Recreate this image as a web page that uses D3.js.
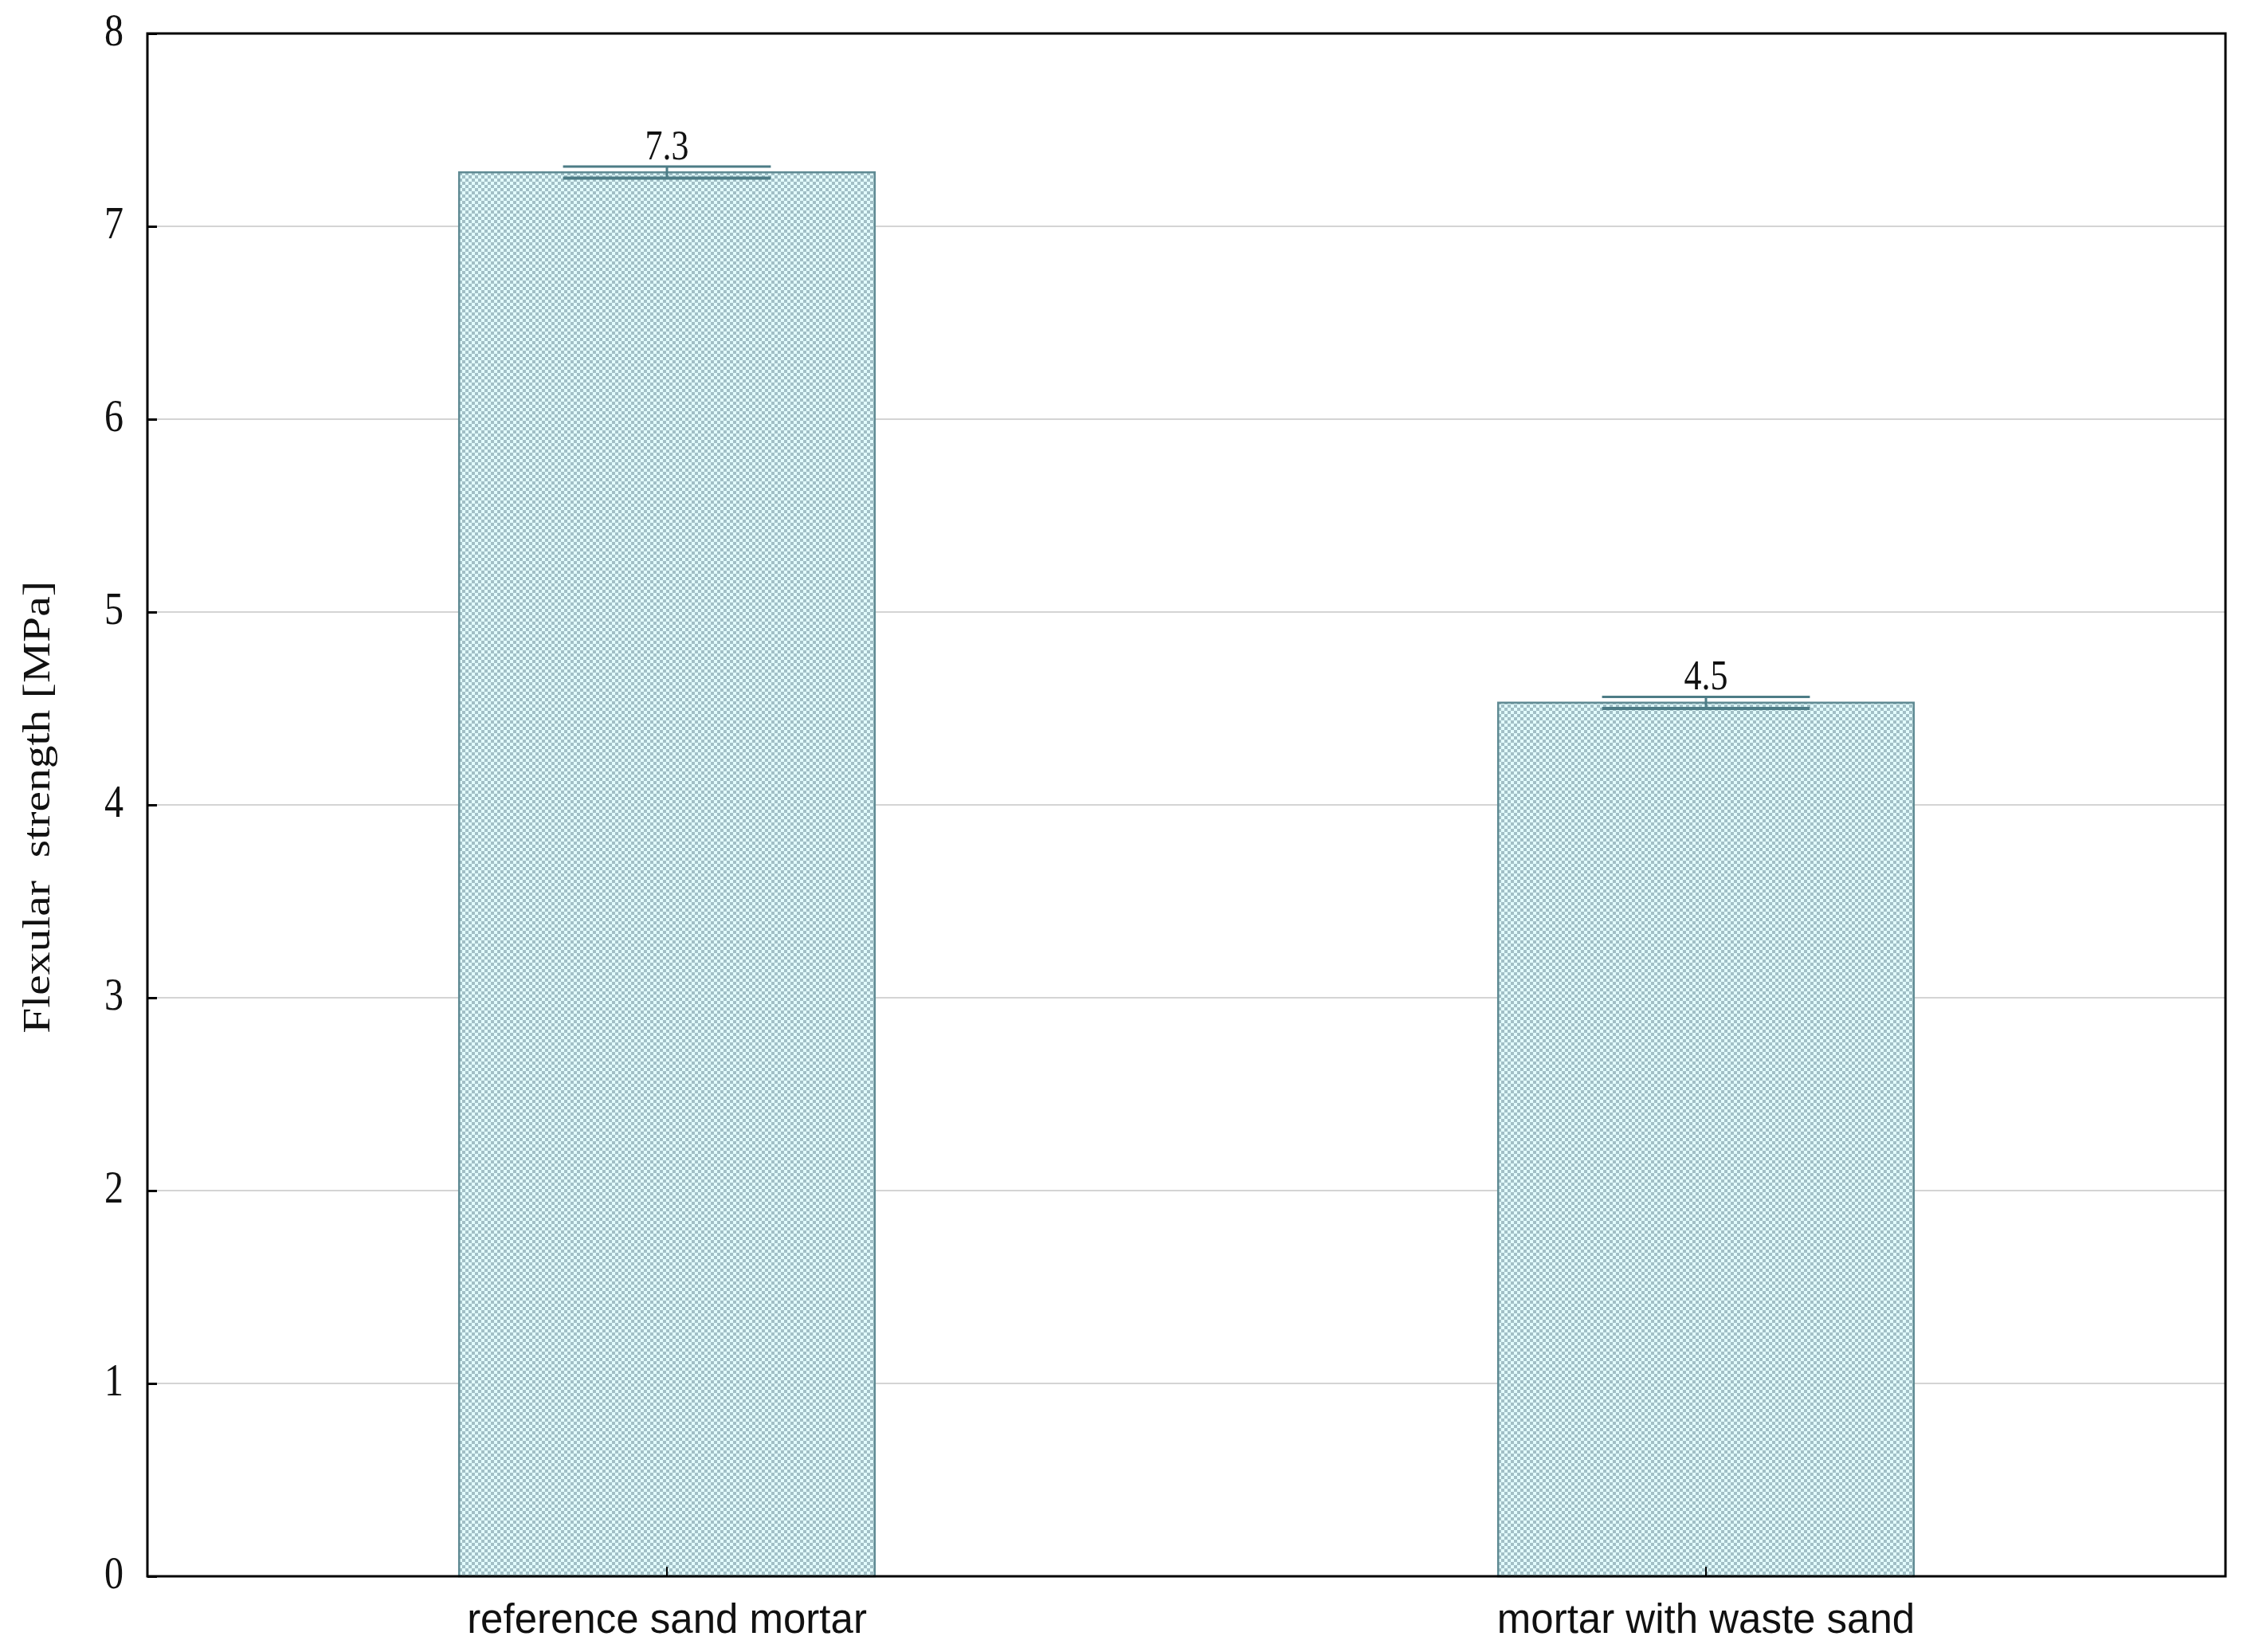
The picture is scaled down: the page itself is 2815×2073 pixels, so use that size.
<!DOCTYPE html>
<html><head><meta charset="utf-8">
<script src="https://cdn.jsdelivr.net/npm/d3@7"></script>
<style>body{margin:0;background:#fff}</style>
</head><body>
<script>
const categories = ["reference sand mortar", "mortar with waste sand"];
const means = [7.28, 4.53];
const errors = [0.03, 0.03];
const yTicks = [0, 1, 2, 3, 4, 5, 6, 7, 8];
const yTitle = "Flexular\u00a0\u00a0strength [MPa]";

const W = 2815, H = 2073;
const m = {left: 185, top: 42, right: 22, bottom: 95};
const svg = d3.select("body").append("svg").attr("width", W).attr("height", H);

const defs = svg.append("defs");
const pat = defs.append("pattern").attr("id", "chk").attr("patternUnits", "userSpaceOnUse")
  .attr("width", 8).attr("height", 8);
pat.append("rect").attr("width", 8).attr("height", 8).attr("fill", "#e2fcfd");
pat.append("rect").attr("width", 4).attr("height", 4).attr("fill", "#a2bfc6");
pat.append("rect").attr("x", 4).attr("y", 4).attr("width", 4).attr("height", 4).attr("fill", "#a2bfc6");

const x = d3.scaleBand().domain(categories).range([m.left, W - m.right]).paddingInner(0.6).paddingOuter(0.3);
const y = d3.scaleLinear().domain([0, 8]).range([H - m.bottom, m.top]);

// gridlines
svg.append("g").selectAll("line").data(yTicks.filter(t => t > 0 && t < 8)).join("line")
  .attr("x1", m.left).attr("x2", W - m.right)
  .attr("y1", d => y(d)).attr("y2", d => y(d))
  .attr("stroke", "#d4d4d4").attr("stroke-width", 2);

// bars
svg.append("g").selectAll("rect").data(categories).join("rect")
  .attr("x", d => x(d)).attr("width", x.bandwidth())
  .attr("y", (d, i) => y(means[i])).attr("height", (d, i) => y(0) - y(means[i]))
  .attr("fill", "url(#chk)").attr("stroke", "#5f8a93").attr("stroke-width", 2.5);

// error bars
const eb = svg.append("g").attr("stroke", "#4d7c86").attr("stroke-width", 3);
categories.forEach((c, i) => {
  const cx = x(c) + x.bandwidth() / 2, hw = x.bandwidth() / 4;
  eb.append("line").attr("x1", cx).attr("x2", cx).attr("y1", y(means[i] + errors[i])).attr("y2", y(means[i] - errors[i]));
  eb.append("line").attr("x1", cx - hw).attr("x2", cx + hw).attr("y1", y(means[i] + errors[i])).attr("y2", y(means[i] + errors[i]));
  eb.append("line").attr("x1", cx - hw).attr("x2", cx + hw).attr("y1", y(means[i] - errors[i])).attr("y2", y(means[i] - errors[i])).attr("stroke-width", 4);
  svg.append("text").attr("transform", `translate(${cx},${y(means[i] + errors[i]) - 9}) scale(1,1.2)`)
    .attr("text-anchor", "middle").attr("font-family", "Liberation Serif, Times New Roman, serif")
    .attr("font-size", 44).attr("fill", "#111").text(d3.format(".1f")(means[i]));
});

// frame
svg.append("rect").attr("x", m.left).attr("y", m.top).attr("width", W - m.left - m.right).attr("height", H - m.top - m.bottom)
  .attr("fill", "none").attr("stroke", "#000").attr("stroke-width", 3);

// y axis ticks
const ya = svg.append("g").attr("transform", `translate(${m.left},0)`)
  .call(d3.axisLeft(y).tickValues(yTicks).tickSize(-12).tickPadding(0).tickFormat(d3.format("d")));
ya.select(".domain").remove();
ya.selectAll(".tick line").attr("stroke", "#000").attr("stroke-width", 3);
ya.selectAll(".tick text").attr("x", -30).attr("dy", null)
  .attr("transform", "translate(0,14) scale(1,1.2)")
  .attr("font-family", "Liberation Serif, Times New Roman, serif").attr("font-size", 48).attr("fill", "#111");

// x axis
const xa = svg.append("g").attr("transform", `translate(0,${H - m.bottom})`)
  .call(d3.axisBottom(x).tickSize(-12).tickPadding(0));
xa.select(".domain").remove();
xa.selectAll(".tick line").attr("stroke", "#000").attr("stroke-width", 2);
xa.selectAll(".tick text").attr("y", 71).attr("dy", null)
  .attr("font-family", "Liberation Sans, Arial, sans-serif").attr("font-size", 51).attr("fill", "#111");

// y title
svg.append("text").attr("transform", `translate(45,1013) rotate(-90) scale(1.2,1)`)
  .attr("text-anchor", "middle").attr("dy", "0.35em")
  .attr("font-family", "Liberation Serif, Times New Roman, serif").attr("font-size", 48).attr("fill", "#111")
  .text(yTitle);
</script>
</body></html>
